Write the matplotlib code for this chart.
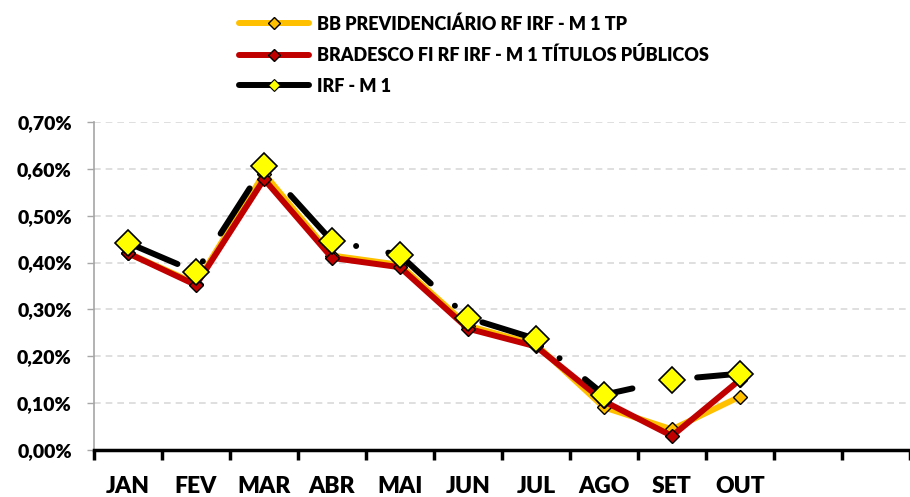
import matplotlib.pyplot as plt
from matplotlib.ticker import FixedLocator, FuncFormatter

months = ["JAN", "FEV", "MAR", "ABR", "MAI", "JUN", "JUL", "AGO", "SET", "OUT", "", ""]
bb = [0.420, 0.355, 0.590, 0.415, 0.395, 0.265, 0.225, 0.091, 0.044, 0.114]
bradesco = [0.420, 0.352, 0.578, 0.410, 0.390, 0.259, 0.221, 0.104, 0.030, 0.150]
irf = [0.442, 0.380, 0.606, 0.446, 0.416, 0.282, 0.237, 0.118, 0.150, 0.163]
labels = ["BB PREVIDENCIÁRIO RF IRF - M 1 TP",
          "BRADESCO FI RF IRF - M 1 TÍTULOS PÚBLICOS",
          "IRF - M 1"]

plt.rcParams['font.family'] = ['Lato', 'DejaVu Sans']
plt.rcParams['font.weight'] = 'heavy'

fig = plt.figure(figsize=(9.1, 4.97), dpi=100)
ax = fig.add_axes([94 / 910, 47 / 497, 816 / 910, 328 / 497])

x = list(range(len(bb)))
l1, = ax.plot(x, bb, color="#FFC000", lw=4.3, marker="D", ms=7,
              mfc="#FFC000", mec="black", mew=1, solid_capstyle="round", zorder=3)
l2, = ax.plot(x, bradesco, color="#C00000", lw=4.3, marker="D", ms=7,
              mfc="#C00000", mec="black", mew=1, solid_capstyle="round", zorder=4)
# long dash - dot pattern, as in the spreadsheet chart
l3, = ax.plot(x, irf, color="black", lw=4.3, dashes=(9, 5.5, 0.01, 5.5),
              dash_capstyle="round", zorder=5)
ax.plot(x, irf, ls="none", marker="D", ms=13, mfc="#FFFF00", mec="black",
        mew=1.2, zorder=6)

h3, = ax.plot([], [], color="black", lw=4.3, marker="D", ms=5, mfc="#FFFF00",
              mec="black", mew=0.8, solid_capstyle="round")
leg = fig.legend([l1, l2, h3], labels, loc="upper left",
                 bbox_to_anchor=(230 / 910, 1 - 6 / 497), frameon=False,
                 handlelength=3.9, handletextpad=0.4, labelspacing=0.75,
                 borderpad=0, prop={'size': 13, 'weight': 'heavy'})
for h in leg.legend_handles:
    h.set_markersize(6)

ax.set_xlim(-0.5, 11.5)
ax.set_ylim(0, 0.70)
ax.set_yticks([i / 10 for i in range(8)])
ax.yaxis.set_major_formatter(FuncFormatter(lambda v, p: f"{v:.2f}%".replace(".", ",")))
ax.grid(axis="y", color="#D9D9D9", ls=(0, (4, 3)), lw=1.2)
ax.set_axisbelow(True)

ax.xaxis.set_major_locator(FixedLocator([i - 0.5 for i in range(13)]))
ax.xaxis.set_minor_locator(FixedLocator(list(range(12))))
ax.xaxis.set_major_formatter(FuncFormatter(lambda v, p: ""))
ax.set_xticklabels(months, minor=True)
ax.tick_params(axis="x", which="major", length=7, width=2.5, color="black", direction="out")
ax.tick_params(axis="x", which="minor", length=0, pad=19, labelsize=16.5)
ax.tick_params(axis="y", length=5, width=1, color="#A6A6A6", pad=11, labelsize=14)

for s in ["top", "right"]:
    ax.spines[s].set_visible(False)
ax.spines["left"].set_color("#A6A6A6")
ax.spines["left"].set_linewidth(1.2)
ax.spines["bottom"].set_color("black")
ax.spines["bottom"].set_linewidth(2.5)

fig.savefig("out.png", dpi=100)
